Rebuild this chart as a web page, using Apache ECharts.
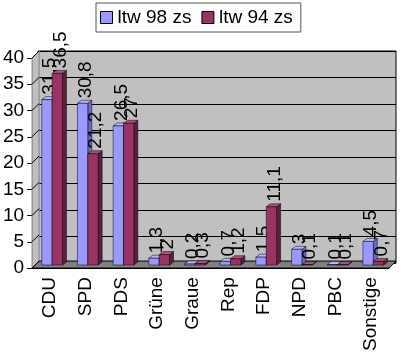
<!DOCTYPE html>
<html>
<head>
<meta charset="utf-8">
<script src="https://cdn.jsdelivr.net/npm/echarts@6/dist/echarts.min.js"></script>
<style>
html, body { margin: 0; padding: 0; background: #fff; }
#chart { width: 406px; height: 354px; }
</style>
</head>
<body>
<div id="chart"></div>
<script>
var categories = ['CDU', 'SPD', 'PDS', 'Grüne', 'Graue', 'Rep', 'FDP', 'NPD', 'PBC', 'Sonstige'];
var ltw98 = [31.5, 30.8, 26.5, 1.3, 0.2, 0.7, 1.5, 3, 0.1, 4.5];
var ltw94 = [36.5, 21.2, 27, 2, 0.3, 1.2, 11.1, 0.1, 0.1, 0.7];
var seriesNames = ['ltw 98 zs', 'ltw 94 zs'];
var yTicks = [0, 5, 10, 15, 20, 25, 30, 35, 40];

// front, top, side colours per series
var faces = [
    { front: '#9999FF', top: '#B8B8FF', side: '#6B6BCC' },
    { front: '#993366', top: '#B05080', side: '#5E1F3F' }
];

var DX = 4, DY = -3;   // bar depth
var SHIFT = 3;         // bars stand a bit into the floor
var FONT = 19;

function barRenderer(s) {
    return function (params, api) {
        var idx = api.value(0), v = api.value(1);
        var base = api.coord([idx, 0]);
        var top = api.coord([idx, v]);
        var cw = api.size([1, 0])[0];
        var w = cw * 0.29;
        var left = base[0] - cw / 2 + cw * (0.27 + s * 0.29);
        var ty = top[1] - SHIFT, by = base[1] - SHIFT;
        var c = faces[s];
        var edge = { stroke: '#000', lineWidth: 0.5 };
        return {
            type: 'group',
            children: [
                { type: 'polygon', shape: { points: [[left + w, ty], [left + w + DX, ty + DY], [left + w + DX, by + DY], [left + w, by]] },
                  style: Object.assign({ fill: c.side }, edge) },
                { type: 'polygon', shape: { points: [[left, ty], [left + DX, ty + DY], [left + w + DX, ty + DY], [left + w, ty]] },
                  style: Object.assign({ fill: c.top }, edge) },
                { type: 'rect', shape: { x: left, y: ty, width: w, height: by - ty },
                  style: Object.assign({ fill: c.front }, edge) },
                { type: 'text', x: left + w / 2 + DX / 2 + 1, y: ty + DY - 2, rotation: Math.PI / 2,
                  style: { text: String(v).replace('.', ','), fontSize: FONT, fontFamily: 'Liberation Sans',
                           fill: '#000', align: 'left', verticalAlign: 'middle' } }
            ]
        };
    };
}

function toData(arr) {
    return arr.map(function (v, i) { return [i, v]; });
}

var chart = echarts.init(document.getElementById('chart'));

var option = {
    animation: false,
    textStyle: { fontFamily: 'Liberation Sans' },
    legend: {
        data: seriesNames.map(function (n, i) {
            return { name: n, itemStyle: { color: faces[i].front, borderColor: '#000', borderWidth: 1 } };
        }),
        left: 96, top: 3,
        padding: [5, 8, 5, 4],
        itemWidth: 12, itemHeight: 12, itemGap: 10,
        icon: 'rect',
        borderColor: '#555', borderWidth: 1, backgroundColor: '#fff',
        textStyle: { fontSize: FONT, color: '#000' }
    },
    grid: [
        { left: 31, right: 17, top: 58, bottom: 84 },
        { left: 38, right: 10, top: 51, bottom: 91, show: true, backgroundColor: '#C0C0C0', borderColor: '#000', borderWidth: 1 }
    ],
    xAxis: [
        {
            type: 'category', gridIndex: 0, data: categories,
            axisLine: { lineStyle: { color: '#000', width: 1 } },
            axisTick: { length: 4, lineStyle: { color: '#000' } },
            axisLabel: { rotate: 90, fontSize: FONT, color: '#000', margin: 9, interval: 0 }
        },
        {
            type: 'category', gridIndex: 1, data: categories, show: false
        }
    ],
    yAxis: [
        {
            type: 'value', gridIndex: 0, min: 0, max: 40, interval: 5,
            axisLine: { show: true, lineStyle: { color: '#808080' } },
            axisTick: { show: true, length: 5, lineStyle: { color: '#000' } },
            axisLabel: { fontSize: FONT, color: '#000', margin: 8 },
            splitLine: { show: false }
        },
        {
            type: 'value', gridIndex: 1, min: 0, max: 40, interval: 5,
            axisLine: { show: false }, axisTick: { show: false }, axisLabel: { show: false },
            splitLine: { show: true, lineStyle: { color: '#000', width: 1 } }
        }
    ],
    series: [
        { name: seriesNames[0], type: 'custom', xAxisIndex: 0, yAxisIndex: 0, clip: false, z: 5,
          itemStyle: { color: faces[0].front }, renderItem: barRenderer(0), data: toData(ltw98) },
        { name: seriesNames[1], type: 'custom', xAxisIndex: 0, yAxisIndex: 0, clip: false, z: 6,
          itemStyle: { color: faces[1].front }, renderItem: barRenderer(1), data: toData(ltw94) }
    ]
};

chart.setOption(option);

// side wall, floor and slanted grid lines of the 3D box
var x0 = chart.convertToPixel({ xAxisIndex: 0 }, categories[0]) - 17.9;
var x1 = chart.convertToPixel({ xAxisIndex: 0 }, categories[categories.length - 1]) + 17.9;
var yBot = chart.convertToPixel({ yAxisIndex: 0 }, 0);
var yTop = chart.convertToPixel({ yAxisIndex: 0 }, 40);
var bx = 7, bY = -7;
var deco = [
    { type: 'polygon', z: 1, shape: { points: [[x0, yBot], [x0, yTop], [x0 + bx, yTop + bY], [x0 + bx, yBot + bY]] },
      style: { fill: '#C0C0C0', stroke: '#808080', lineWidth: 1 } },
    { type: 'polygon', z: 1, shape: { points: [[x0, yBot], [x1, yBot], [x1 + bx, yBot + bY], [x0 + bx, yBot + bY]] },
      style: { fill: '#808080', stroke: '#000', lineWidth: 1 } }
];
yTicks.forEach(function (t) {
    var y = chart.convertToPixel({ yAxisIndex: 0 }, t);
    deco.push({ type: 'line', z: 2, shape: { x1: x0, y1: y, x2: x0 + bx, y2: y + bY }, style: { stroke: '#000', lineWidth: 1 } });
});
chart.setOption({ graphic: deco });
</script>
</body>
</html>
